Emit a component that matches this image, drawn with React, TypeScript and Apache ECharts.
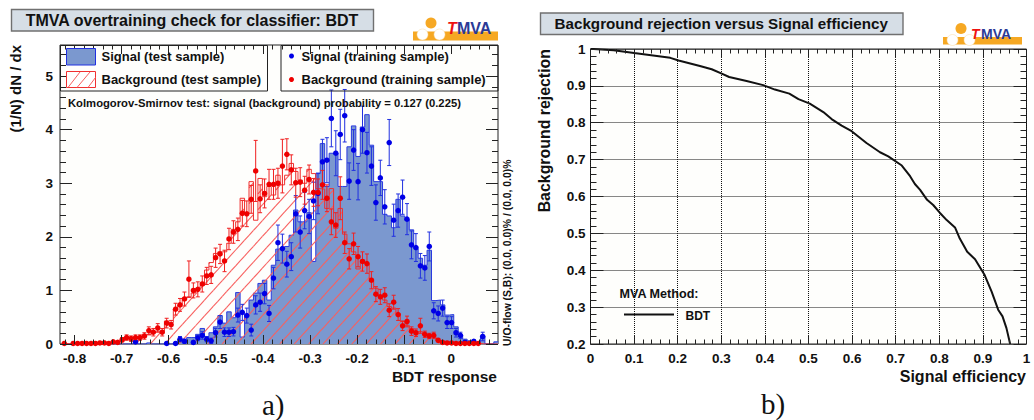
import React, { useEffect, useRef } from "react";
import * as echarts from "echarts";

// ---------- a) overtraining check: per-bin values ----------
const binStart = -0.8217; // centre of bin 0
const binWidth = 0.00945;

const signalTest = [
  0, 0, 0, 0, 0, 0, 0, 0, 0, 0, 0, 0, 0, 0, 0, 0,
  0.03, 0, 0, 0.02, 0, 0, 0, 0, 0, 0.02,
  0.08, 0.06, 0.12, 0.12, 0.18, 0.29, 0.14, 0.21, 0.32, 0.53,
  0.39, 0.6, 0.49, 0.96, 0.13, 0.55, 0.82, 0.95, 1.13, 1.19,
  0.82, 1.47, 1.77, 1.78, 1.82, 2.03, 2.5, 2.28, 2.28, 2.45,
  1.54, 3.18, 3.74, 2.94, 3.56, 3.56, 2.94, 2.94, 3.68, 4.07,
  3.5, 4.05, 4.28, 3.71, 3.03, 3.03, 2.42, 2.39, 2.17, 2.7,
  2.39, 2.31, 2.13, 1.78, 1.6, 1.47, 1.75, 0.81, 0.82, 0.73,
  0.54, 0.55, 0.32, 0.17, 0.09, 0.06, 0.03, 0.02, 0.15, 0, 0, 0.04,
];

const backgroundTest = [
  0.01, 0, 0.01, 0.01, 0.01, 0.01, 0.01, 0.01, 0.01, 0.01, 0.01,
  0.04, 0.03, 0.07, 0.1, 0.1, 0.12, 0.1, 0.13, 0.17, 0.22, 0.24, 0.23, 0.43, 0.4,
  0.65, 0.73, 0.83, 0.88, 0.95, 1.04, 1.09, 1.38, 1.52, 1.69, 1.72, 1.72, 1.88, 2.14, 2.28,
  2.72, 2.43, 3.03, 2.31, 3.09, 2.75, 2.94, 2.78, 3.15, 2.97, 3.15, 3.37, 3.22, 3.06, 3.0,
  3.26, 3.18, 2.9, 2.89, 2.53, 2.9, 2.16, 2.53, 2.05, 1.87, 1.72, 1.4, 1.57, 1.5, 1.21,
  1.04, 0.91, 0.82, 0.7, 0.67, 0.57, 0.42, 0.35, 0.29, 0.23, 0.23, 0.17, 0.14, 0.13, 0.06,
  0.04, 0.03, 0.03, 0.02, 0.01, 0.01, 0.01, 0.01, 0.01, 0, 0, 0, 0,
];

const N = null;
const signalTrain = [
  N, N, N, N, N, N, N, N, N, N, N, N, N, N, N, N,
  0.04, N, N, N, N, N, N, 0.01, N, 0.01,
  0.09, 0.05, N, 0.03, 0.11, 0.16, 0.09, 0.06, 0.21, 0.41,
  0.22, 0.22, 0.23, 0.54, 0.59, 0.53, 0.26, 0.73, 0.78, 0.94,
  0.57, 1.23, 1.89, 1.78, 1.49, 1.63, 2.43, 2.09, 2.49, 2.38,
  2.67, 2.81, 3.4, 3.43, 4.21, 3.56, 3.91, 4.26, 3.04, 3.62,
  3.03, 4.0, 3.57, 3.32, 2.64, 3.1, 2.56, 3.76, 2.31, 2.49,
  2.74, 2.33, 1.85, 1.8, 1.46, 1.42, 1.82, 0.62, 0.57, 0.67,
  0.4, 0.4, 0.21, 0.16, 0.03, N, 0.05, N, 0.14, N, N, N,
];
const signalErr = [
  0, 0, 0, 0, 0, 0, 0, 0, 0, 0, 0, 0, 0, 0, 0, 0,
  0.03, 0, 0, 0, 0, 0, 0, 0.01, 0, 0.01,
  0.05, 0.04, 0, 0.03, 0.05, 0.07, 0.05, 0.05, 0.08, 0.12,
  0.08, 0.08, 0.08, 0.13, 0.15, 0.14, 0.11, 0.17, 0.17, 0.19,
  0.15, 0.2, 0.33, 0.27, 0.24, 0.26, 0.34, 0.3, 0.34, 0.32,
  0.35, 0.38, 0.42, 0.42, 0.53, 0.42, 0.47, 0.49, 0.34, 0.38,
  0.34, 0.44, 0.38, 0.36, 0.33, 0.33, 0.32, 0.43, 0.3, 0.31,
  0.32, 0.29, 0.26, 0.26, 0.23, 0.23, 0.27, 0.15, 0.14, 0.15,
  0.11, 0.11, 0.08, 0.06, 0.03, 0, 0.03, 0, 0.08, 0, 0, 0,
];

const backgroundTrain = [
  0.01, N, 0.01, 0.01, 0.01, 0.01, 0.01, 0.01, 0.02, 0.02, 0.01,
  0.04, 0.03, 0.08, 0.12, 0.1, 0.12, 0.12, 0.15, 0.25, 0.22, 0.3, 0.22, 0.39, 0.36,
  0.65, 0.73, 0.84, 1.21, 1.0, 1.02, 1.12, 1.27, 1.29, 1.61, 1.68, 1.55, 1.96, 2.09, 2.14,
  2.44, 2.43, 2.7, 3.23, 2.71, 2.81, 2.98, 2.98, 3.0, 3.32, 3.54, 3.25, 3.01, 3.02, 2.87,
  3.07, 2.83, 2.83, 2.97, 2.72, 2.28, 2.22, 2.72, 1.89, 1.59, 1.87, 1.63, 1.54, 1.5, 1.19,
  0.93, 0.88, 0.91, 0.63, 0.78, 0.55, 0.34, 0.42, 0.24, 0.21, 0.34, 0.18, 0.15, 0.16, 0.07,
  0.03, 0.02, 0.02, 0.01, 0.01, 0.01, 0.01, 0.01, 0.01, N, N, N, N,
];
const backgroundErr = [
  0.01, 0, 0.01, 0.01, 0.01, 0.01, 0.01, 0.01, 0.02, 0.02, 0.01,
  0.02, 0.02, 0.04, 0.05, 0.05, 0.05, 0.05, 0.06, 0.07, 0.07, 0.08, 0.07, 0.09, 0.08,
  0.11, 0.12, 0.13, 0.34, 0.14, 0.14, 0.15, 0.16, 0.16, 0.18, 0.18, 0.2, 0.2, 0.21, 0.21,
  0.24, 0.24, 0.26, 0.57, 0.26, 0.27, 0.28, 0.28, 0.28, 0.5, 0.29, 0.28, 0.27, 0.27, 0.26,
  0.27, 0.26, 0.25, 0.27, 0.25, 0.24, 0.23, 0.4, 0.2, 0.19, 0.2, 0.19, 0.18, 0.18, 0.16,
  0.14, 0.14, 0.14, 0.12, 0.13, 0.11, 0.09, 0.1, 0.08, 0.07, 0.14, 0.06, 0.05, 0.06, 0.03,
  0.02, 0.01, 0.01, 0.01, 0.01, 0.01, 0.01, 0.01, 0.01, 0, 0, 0, 0,
];

const xMajorA = [-0.8, -0.7, -0.6, -0.5, -0.4, -0.3, -0.2, -0.1, 0];
const yMajorA = [0, 1, 2, 3, 4, 5];

// ---------- b) ROC curve ----------
const rocEff = [
  0, 0.007, 0.053, 0.1, 0.148, 0.183, 0.202, 0.251, 0.278, 0.301, 0.318, 0.358, 0.396, 0.423, 0.456,
  0.477, 0.503, 0.534, 0.553, 0.576, 0.599, 0.633, 0.664, 0.683, 0.714, 0.733, 0.744, 0.756, 0.772,
  0.786, 0.801, 0.817, 0.836, 0.847, 0.864, 0.882, 0.904, 0.92, 0.935, 0.945, 0.954, 0.9625,
];
const rocRej = [
  1, 1, 0.9964, 0.989, 0.982, 0.976, 0.969, 0.954, 0.945, 0.933, 0.924, 0.913, 0.902, 0.89, 0.879,
  0.864, 0.852, 0.829, 0.81, 0.792, 0.777, 0.745, 0.72, 0.709, 0.684, 0.655, 0.634, 0.618, 0.591,
  0.577, 0.556, 0.536, 0.516, 0.486, 0.45, 0.43, 0.387, 0.342, 0.293, 0.275, 0.243, 0.2,
];

const FONT = '"Liberation Sans"';
const BLUE_FILL = "#7b98cf";
const BLUE = "#0000e6";
const RED = "#ee0000";
const HATCH = "#f8605f";
const round = (v: number) => Math.round(v * 1000) / 1000;
const fmt = (v: number) => String(round(v));

const centre = (i: number) => binStart + binWidth * i;
const stepData = (vals: number[]) => [
  ...vals.map((v, i) => [centre(i) - binWidth / 2, v]),
  [centre(vals.length - 1) + binWidth / 2, vals[vals.length - 1]],
];
const pointData = (vals: (number | null)[], errs: number[]) =>
  vals.flatMap((v, i) => (v == null ? [] : [[centre(i), v, errs[i]]]));

// hatching of one histogram bin, as diagonal lines clipped to the bin's column
const hatchRender = (spacing: number, slope: number, phase: number) => (_: any, api: any) => {
  const lo = api.coord([api.value(0), 0]);
  const hi = api.coord([api.value(1), api.value(2)]);
  const [xl, yb] = lo;
  const [xr, yt] = hi;
  const h = yb - yt;
  const children: any[] = [];
  if (h > 0.2) {
    const first = Math.floor((xl - h / slope - phase) / spacing);
    const last = Math.ceil((xr - phase) / spacing);
    for (let k = first; k <= last; k++) {
      const x0 = phase + k * spacing;
      const x1 = Math.max(xl, x0);
      const x2 = Math.min(xr, x0 + h / slope);
      if (x2 > x1) {
        children.push({
          type: "line",
          shape: { x1, y1: yb - slope * (x1 - x0), x2, y2: yb - slope * (x2 - x0) },
          style: { stroke: HATCH, lineWidth: 1.1 },
        });
      }
    }
  }
  return { type: "group", children };
};

// four axes along one side pair: labelled major ticks, minor ticks, mirrored major and minor
function customAxes(
  gridIndex: number,
  min: number,
  max: number,
  major: number[],
  minor: number[],
  lenMajor: number,
  lenMinor: number,
  posA: string,
  posB: string,
  labelMargin: number,
) {
  const base = {
    gridIndex,
    type: "value",
    min,
    max,
    z: 10,
    axisLine: { show: false, onZero: false },
    splitLine: { show: false },
    minorTick: { show: false },
    scale: true,
  };
  const tick = (len: number, values: number[]) => ({
    show: true,
    inside: true,
    length: len,
    customValues: values,
    lineStyle: { color: "#222", width: 1 },
  });
  const off = { show: false, customValues: [] as number[] };
  return [
    {
      ...base,
      position: posA,
      axisTick: tick(lenMajor, major),
      axisLabel: {
        show: true,
        customValues: major,
        formatter: fmt,
        margin: labelMargin,
        color: "#111",
        fontFamily: FONT,
        fontWeight: "bold",
        fontSize: 13.5,
        showMinLabel: true,
        showMaxLabel: true,
      },
    },
    { ...base, position: posA, axisTick: tick(lenMinor, minor), axisLabel: off },
    { ...base, position: posB, axisTick: tick(lenMajor, major), axisLabel: off },
    { ...base, position: posB, axisTick: tick(lenMinor, minor), axisLabel: off },
  ];
}

function regularAxes(
  gridIndex: number,
  min: number,
  max: number,
  lenMajor: number,
  lenMinor: number,
  posA: string,
  posB: string,
  labelMargin: number,
) {
  const base = {
    gridIndex,
    type: "value",
    min,
    max,
    interval: 0.1,
    z: 10,
    axisLine: { show: false, onZero: false },
    minorTick: { show: true, splitNumber: 5, length: lenMinor, lineStyle: { color: "#222", width: 1 } },
    axisTick: { show: true, inside: true, length: lenMajor, lineStyle: { color: "#222", width: 1 } },
  };
  return [
    {
      ...base,
      position: posA,
      splitLine: { show: true, lineStyle: { color: "#111", width: 1, type: "dotted" } },
      axisLabel: {
        show: true,
        formatter: fmt,
        margin: labelMargin,
        color: "#111",
        fontFamily: FONT,
        fontWeight: "bold",
        fontSize: 13.5,
      },
    },
    { ...base, position: posB, splitLine: { show: false }, axisLabel: { show: false } },
  ];
}

const errorRender = (color: string) => (_: any, api: any) => {
  const x = api.value(0);
  const y = api.value(1);
  const e = api.value(2);
  const hi = api.coord([x, y + e]);
  const lo = api.coord([x, y - e]);
  const style = { stroke: color, lineWidth: 1 };
  const line = (x1: number, y1: number, x2: number, y2: number) => ({
    type: "line",
    shape: { x1, y1, x2, y2 },
    style,
  });
  return {
    type: "group",
    children: [
      line(hi[0], hi[1], lo[0], lo[1]),
      line(hi[0] - 2, hi[1], hi[0] + 2, hi[1]),
      line(lo[0] - 2, lo[1], lo[0] + 2, lo[1]),
    ],
  };
};

const label = (text: string, x: number, y: number, font: string, extra: any = {}, fill = "#111") => ({
  type: "text",
  x,
  y,
  rotation: extra.rotation ?? 0,
  z: 50,
  style: {
    text,
    x: 0,
    y: 0,
    fill,
    font,
    textAlign: extra.align ?? "left",
    textVerticalAlign: "middle",
  },
});

const titleBox = (x: number, y: number, w: number, h: number, text: string, size: number) => [
  { type: "rect", z: 40, shape: { x: x + 0.5, y: y + 0.5, width: w, height: h }, style: { fill: "#d6dee6", stroke: "#707070", lineWidth: 1.4 } },
  label(text, x + w / 2, y + h / 2 + 0.5, `bold ${size}px ${FONT}`, { align: "center" }),
];

const logo = (x: number, y: number, w: number, fs: number) => {
  // x, y: left and top of the orange bar
  const barH = y < 35 ? 9 : 7.5;
  const cx = x + 18;
  const r = 5.5;
  return [
    { type: "rect", z: 40, shape: { x, y, width: w, height: barH }, style: { fill: "#f6a823" } },
    { type: "circle", z: 41, shape: { cx, cy: y - 8.5, r }, style: { fill: "#f6a823" } },
    { type: "circle", z: 41, shape: { cx: cx - 8.5, cy: y + 3, r }, style: { fill: "#fff", stroke: "#f9d9a0", lineWidth: 0.5 } },
    { type: "circle", z: 41, shape: { cx: cx + 8.5, cy: y + 3, r }, style: { fill: "#fff", stroke: "#f9d9a0", lineWidth: 0.5 } },
    label("T", x + w - 51, y - 3, `italic bold ${fs}px ${FONT}`, {}, "#ee1111"),
    label("MVA", x + w - 41, y - 3, `bold ${fs}px ${FONT}`, {}, "#2b3a96"),
  ];
};

const swatchLine = (x1: number, y1: number, x2: number, y2: number) => ({
  type: "line",
  z: 32,
  shape: { x1, y1, x2, y2 },
  style: { stroke: HATCH, lineWidth: 1 },
});

export default function App() {
  const ref = useRef<HTMLDivElement>(null);
  useEffect(() => {
    document.body.style.margin = "0";
    const chart = echarts.init(ref.current!, undefined, { renderer: "svg" });

    const minorX: number[] = [];
    for (let k = -41; k <= 4; k++) if (k % 5 !== 0) minorX.push(round(k * 0.02));
    const minorY: number[] = [];
    for (let k = 1; k <= 27; k++) if (k % 5 !== 0) minorY.push(round(k * 0.2));

    const xMin = -0.8308;
    const xMax = 0.0991;
    const yMax = 5.58;

    const xA = customAxes(0, xMin, xMax, xMajorA, minorX, 9, 4.5, "bottom", "top", 7);
    const yA = customAxes(0, 0, yMax, yMajorA, minorY, 12, 6, "left", "right", 7);
    const xB = regularAxes(1, 0, 1, 9, 4.5, "bottom", "top", 7);
    const yB = regularAxes(1, 0.2, 1, 13, 6, "left", "right", 5);

    const graphicEls: any[] = [
      ...titleBox(11, 9, 362, 21.5, "TMVA overtraining check for classifier: BDT", 16),
      ...titleBox(540, 12.5, 362.5, 21.5, "Background rejection versus Signal efficiency", 15.2),
      ...logo(413, 31.5, 85, 16),
      ...logo(943, 37, 79, 14),

      // left legends (transparent boxes)
      { type: "rect", z: 30, shape: { x: 60.5, y: 45.5, width: 207, height: 45.5 }, style: { fill: "none", stroke: "#222", lineWidth: 1 } },
      { type: "rect", z: 30, shape: { x: 281, y: 45.5, width: 217, height: 45.5 }, style: { fill: "none", stroke: "#222", lineWidth: 1 } },
      { type: "rect", z: 31, shape: { x: 66.5, y: 48.5, width: 29, height: 16.5 }, style: { fill: BLUE_FILL, stroke: "#2030e0", lineWidth: 1 } },
      { type: "rect", z: 31, shape: { x: 66.5, y: 71.5, width: 29, height: 16 }, style: { fill: "#fff", stroke: "#f03030", lineWidth: 1 } },
      swatchLine(68, 87.5, 80, 72),
      swatchLine(77, 87.5, 90, 72),
      swatchLine(88, 87.5, 95.5, 77.5),
      label("Signal (test sample)", 101.5, 56, `bold 13px ${FONT}`),
      label("Background (test sample)", 101.5, 79, `bold 13px ${FONT}`),
      { type: "circle", z: 31, shape: { cx: 291.5, cy: 56, r: 2.5 }, style: { fill: BLUE } },
      { type: "circle", z: 31, shape: { cx: 291.5, cy: 79.5, r: 2.5 }, style: { fill: RED } },
      label("Signal (training sample)", 301.5, 56, `bold 13px ${FONT}`),
      label("Background (training sample)", 301.5, 79, `bold 13px ${FONT}`),
      label("Kolmogorov-Smirnov test: signal (background) probability = 0.127 (0.225)", 68, 102.5, `bold 11.25px ${FONT}`),
      label("U/O-flow (S,B): (0.0, 0.0)% / (0.0, 0.0)%", 507, 346, `bold 10.4px ${FONT}`, { rotation: Math.PI / 2 }),

      // axis titles
      label("(1/N) dN / dx", 15, 45, `bold 15px ${FONT}`, { rotation: Math.PI / 2, align: "right" }),
      label("BDT response", 497, 376.5, `bold 15.5px ${FONT}`, { align: "right" }),
      label("Background rejection", 544, 49, `bold 15.9px ${FONT}`, { rotation: Math.PI / 2, align: "right" }),
      label("Signal efficiency", 1026, 376.5, `bold 16px ${FONT}`, { align: "right" }),

      // right legend
      label("MVA Method:", 619.5, 294, `bold 12.6px ${FONT}`),
      { type: "line", z: 31, shape: { x1: 624, y1: 314.5, x2: 674, y2: 314.5 }, style: { stroke: "#111", lineWidth: 2 } },
      label("BDT", 685.5, 315.5, `bold 12px ${FONT}`),

      // panel letters
      label("a)", 262, 404.5, `29px "Liberation Serif"`),
      label("b)", 761, 404, `29px "Liberation Serif"`),
    ];

    const option: any = {
      animation: false,
      backgroundColor: "#ffffff",
      grid: [
        { left: 60, top: 45, width: 438, height: 299, show: true, backgroundColor: "#fefefc", borderColor: "#222", borderWidth: 1 },
        { left: 590.5, top: 49, width: 436, height: 295, show: true, backgroundColor: "#fefefc", borderColor: "#222", borderWidth: 1 },
      ],
      xAxis: [...xA, ...xB],
      yAxis: [...yA, ...yB],
      graphic: { elements: graphicEls },
      series: [
        {
          name: "Signal (test sample)",
          type: "line",
          xAxisIndex: 0,
          yAxisIndex: 0,
          step: "end",
          showSymbol: false,
          symbol: "none",
          data: stepData(signalTest),
          lineStyle: { color: "#2a3ae0", width: 1 },
          areaStyle: { color: BLUE_FILL, opacity: 1, origin: "start" },
          z: 2,
        },
        {
          name: "Background hatching",
          type: "custom",
          xAxisIndex: 0,
          yAxisIndex: 0,
          renderItem: hatchRender(14.4, 1.1, 179),
          data: backgroundTest.map((v, i) => [centre(i) - binWidth / 2, centre(i) + binWidth / 2, v]),
          encode: { x: [0, 1], y: 2 },
          z: 3,
          silent: true,
        },
        {
          name: "Background (test sample)",
          type: "line",
          xAxisIndex: 0,
          yAxisIndex: 0,
          step: "end",
          showSymbol: false,
          symbol: "none",
          data: stepData(backgroundTest),
          lineStyle: { color: "#f03030", width: 1 },
          z: 3,
        },
        {
          name: "Signal error",
          type: "custom",
          xAxisIndex: 0,
          yAxisIndex: 0,
          renderItem: errorRender("#2030e0"),
          data: pointData(signalTrain, signalErr),
          encode: { x: 0, y: 1 },
          z: 4,
          silent: true,
        },
        {
          name: "Background error",
          type: "custom",
          xAxisIndex: 0,
          yAxisIndex: 0,
          renderItem: errorRender("#f02020"),
          data: pointData(backgroundTrain, backgroundErr),
          encode: { x: 0, y: 1 },
          z: 5,
          silent: true,
        },
        {
          name: "Signal (training sample)",
          type: "scatter",
          xAxisIndex: 0,
          yAxisIndex: 0,
          symbolSize: 5.5,
          itemStyle: { color: BLUE, opacity: 1 },
          data: pointData(signalTrain, signalErr).map((p) => [p[0], p[1]]),
          z: 6,
        },
        {
          name: "Background (training sample)",
          type: "scatter",
          xAxisIndex: 0,
          yAxisIndex: 0,
          symbolSize: 5.5,
          itemStyle: { color: RED, opacity: 1 },
          data: pointData(backgroundTrain, backgroundErr).map((p) => [p[0], p[1]]),
          z: 7,
        },
        {
          name: "BDT",
          type: "line",
          xAxisIndex: 4,
          yAxisIndex: 4,
          showSymbol: false,
          symbol: "none",
          data: rocEff.map((e, i) => [e, rocRej[i]]),
          lineStyle: { color: "#111", width: 2 },
          z: 5,
        },
      ],
    };
    chart.setOption(option);
    return () => chart.dispose();
  }, []);
  return <div ref={ref} style={{ position: "fixed", left: 0, top: 0, width: 1034, height: 420 }} />;
}
